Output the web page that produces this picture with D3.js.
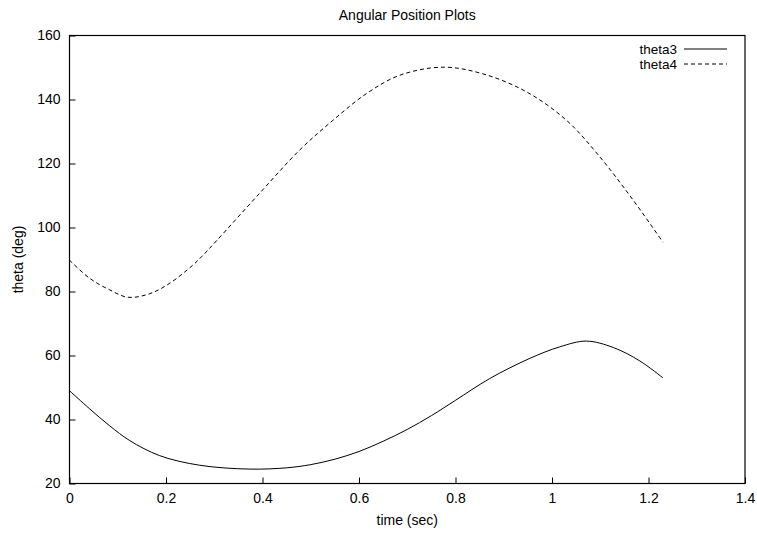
<!DOCTYPE html>
<html>
<head>
<meta charset="utf-8">
<script src="https://cdn.jsdelivr.net/npm/d3@7"></script>
<style>
  html, body { margin: 0; padding: 0; background: #fff; }
  svg { display: block; font-family: "Liberation Sans", Arial, Helvetica, sans-serif; }
</style>
</head>
<body>
<svg id="chart" width="757" height="535"></svg>
<script>
// ---- data ----
const time3  = [0, 0.042, 0.0835, 0.125, 0.187, 0.27, 0.374, 0.45, 0.5, 0.55, 0.6, 0.65, 0.7, 0.75, 0.8, 0.871, 0.954, 1.016, 1.071, 1.127, 1.182, 1.23];
const theta3 = [49.0, 43.3, 38.0, 33.4, 28.7, 25.7, 24.5, 24.9, 25.9, 27.6, 30.0, 33.2, 36.9, 41.2, 46.0, 52.8, 59.1, 62.7, 64.5, 62.5, 58.3, 53.0];
const time4  = [0, 0.042, 0.0835, 0.121, 0.166, 0.208, 0.256, 0.274, 0.305, 0.394, 0.477, 0.546, 0.616, 0.685, 0.774, 0.857, 0.947, 1.03, 1.099, 1.168, 1.23];
const theta4 = [89.8, 84.1, 80.5, 78.2, 79.3, 82.6, 88.3, 90.9, 95.9, 110.7, 124.2, 133.5, 141.9, 147.6, 150.1, 148.0, 142.4, 133.5, 122.1, 108.6, 95.4];
const xTicks = [0, 0.2, 0.4, 0.6, 0.8, 1.0, 1.2, 1.4];
const xTickLabels = ["0", "0.2", "0.4", "0.6", "0.8", "1", "1.2", "1.4"];
const yTicks = [20, 40, 60, 80, 100, 120, 140, 160];
const seriesNames = ["theta3", "theta4"];
const titleText = "Angular Position Plots";
const xLabel = "time (sec)";
const yLabel = "theta (deg)";

// ---- layout ----
const svg = d3.select("#chart");
const L = 69.5, R = 745, T = 35.5, B = 483.5;
const x = d3.scaleLinear().domain([0, 1.4]).range([L, R]);
const y = d3.scaleLinear().domain([20, 160]).range([B, T]);
const fontSize = 14;

// axes
const gx = svg.append("g").attr("transform", `translate(0,${B})`)
  .call(d3.axisBottom(x).tickValues(xTicks).tickSize(-6).tickPadding(10)
        .tickFormat((d, i) => xTickLabels[i]));
const gy = svg.append("g").attr("transform", `translate(${L},0)`)
  .call(d3.axisLeft(y).tickValues(yTicks).tickSize(-6).tickPadding(9));
[gx, gy].forEach(g => {
  g.select(".domain").remove();
  g.selectAll("line").attr("stroke", "#000").attr("stroke-width", 1);
  g.selectAll("text").attr("fill", "#000").style("font-size", fontSize + "px")
    .style("font-family", '"Liberation Sans", Arial, sans-serif');
});

// frame
svg.append("rect").attr("x", L).attr("y", T).attr("width", R - L).attr("height", B - T)
  .attr("fill", "none").attr("stroke", "#000").attr("stroke-width", 1.2);

// lines
const line = d3.line().x(d => x(d[0])).y(d => y(d[1])).curve(d3.curveCatmullRom.alpha(0.5));
const data3 = time3.map((t, i) => [t, theta3[i]]);
const data4 = time4.map((t, i) => [t, theta4[i]]);
const dashes = [null, "4,3"];
svg.append("path").datum(data3).attr("d", line)
  .attr("fill", "none").attr("stroke", "#000").attr("stroke-width", 1);
svg.append("path").datum(data4).attr("d", line)
  .attr("fill", "none").attr("stroke", "#000").attr("stroke-width", 1)
  .attr("stroke-dasharray", dashes[1]);

// legend
const legend = svg.append("g");
seriesNames.forEach((name, i) => {
  const ly = 49 + i * 15;
  legend.append("text").attr("x", 677).attr("y", ly + 4.5)
    .attr("text-anchor", "end").style("font-size", "13.5px").text(name);
  legend.append("line").attr("x1", 684).attr("x2", 727).attr("y1", ly).attr("y2", ly)
    .attr("stroke", "#000").attr("stroke-width", 1)
    .attr("stroke-dasharray", dashes[i]);
});

// titles
svg.append("text").attr("x", (L + R) / 2).attr("y", 20).attr("text-anchor", "middle")
  .style("font-size", fontSize + "px").text(titleText);
svg.append("text").attr("x", (L + R) / 2).attr("y", 525).attr("text-anchor", "middle")
  .style("font-size", fontSize + "px").text(xLabel);
svg.append("text").attr("transform", `translate(23,${(T + B) / 2}) rotate(-90)`)
  .attr("text-anchor", "middle").style("font-size", fontSize + "px").text(yLabel);
</script>
</body>
</html>
